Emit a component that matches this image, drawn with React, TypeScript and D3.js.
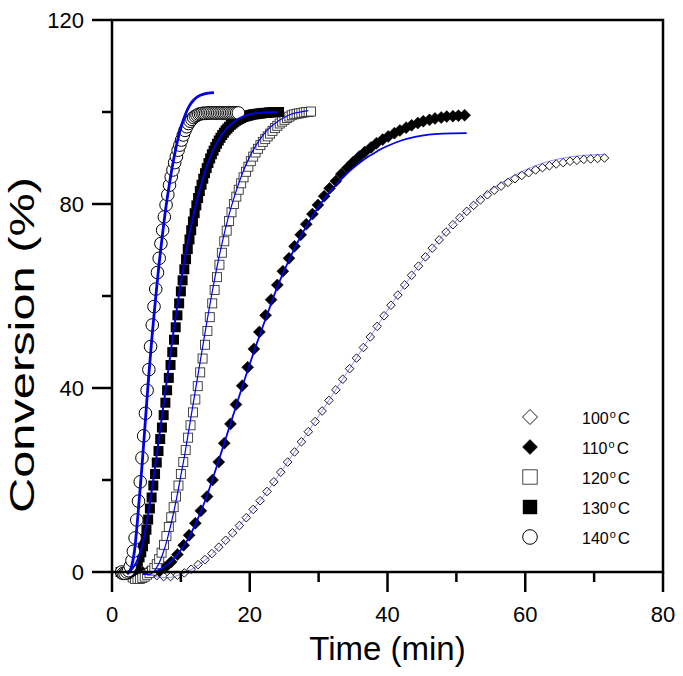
import React from 'react';
import * as d3 from 'd3';

const W = 683;
const H = 676;

const xMajorTicks = [0, 20, 40, 60, 80];
const xMinorTicks = [10, 30, 50, 70];
const yMajorTicks = [0, 40, 80, 120];
const yMinorTicks = [20, 60, 100];

const legendTemps = ['100', '110', '120', '130', '140'];

type P = [number, number];

// 100 oC observed (open diamonds)
const obs100: P[] = [
  [6.5,-0.8],[7.5,-1.0],[8.5,-1.0],[9.5,-0.7],[10.5,-0.2],[11.5,0.6],[12.5,1.6],[13.5,2.7],[14.5,4.0],[15.5,5.4],
  [16.5,6.9],[17.5,8.5],[18.5,10.1],[19.5,11.8],[20.5,13.6],[21.5,15.5],[22.5,17.5],[23.5,19.6],[24.5,21.7],[25.5,23.9],
  [26.5,26.1],[27.5,28.3],[28.5,30.5],[29.5,32.7],[30.5,35.0],[31.5,37.3],[32.5,39.6],[33.5,41.9],[34.5,44.2],[35.5,46.5],
  [36.5,48.8],[37.5,51.1],[38.5,53.4],[39.5,55.7],[40.5,58.0],[41.5,60.2],[42.5,62.4],[43.5,64.5],[44.5,66.5],[45.5,68.5],
  [46.5,70.4],[47.5,72.2],[48.5,73.9],[49.5,75.5],[50.5,77.0],[51.5,78.4],[52.5,79.7],[53.5,80.9],[54.5,82.0],[55.5,83.0],
  [56.5,83.9],[57.5,84.7],[58.5,85.5],[59.5,86.2],[60.5,86.8],[61.5,87.4],[62.5,87.9],[63.5,88.3],[64.5,88.7],[65.5,89.0],
  [66.5,89.3],[67.5,89.5],[68.5,89.7],[69.5,89.8],[70.5,89.9],[71.5,90.0]
];

// 110 oC observed (filled diamonds)
const obs110: P[] = [
  [3.5,0],[4.4,0],[5.2,0],[6.0,0],[6.9,0.2],[7.7,1.0],[8.6,2.2],[9.5,3.8],[10.4,5.8],[11.2,8.0],
  [12.1,10.6],[12.9,13.3],[13.8,16.4],[14.6,20.0],[15.5,23.9],[16.3,28.0],[17.2,32.2],[18.0,36.4],[18.9,40.5],[19.7,44.5],
  [20.6,48.5],[21.4,52.2],[22.3,55.8],[23.1,59.2],[24.0,62.4],[24.8,65.4],[25.7,68.2],[26.5,70.8],[27.4,73.3],[28.2,75.6],
  [29.1,77.8],[29.9,79.8],[30.8,81.7],[31.6,83.4],[32.5,85.0],[33.3,86.5],[34.2,87.9],[35.0,89.1],[35.9,90.3],[36.7,91.3],
  [37.6,92.3],[38.4,93.2],[39.3,94.0],[40.1,94.7],[41.0,95.4],[41.8,96.0],[42.7,96.6],[43.5,97.1],[44.4,97.6],[45.2,98.0],
  [46.1,98.3],[46.9,98.6],[47.8,98.8],[48.6,99.0],[49.5,99.1],[50.3,99.2],[51.2,99.3]
];

// 120 oC observed (open squares)
const obs120: P[] = [
  [3.0,-1.2],[3.35,-1.5],[3.7,-1.5],[4.05,-1.5],[4.4,-1.3],[4.75,-1.0],[5.1,-0.6],[5.45,-0.2],[5.8,0.3],[6.15,0.9],
  [6.5,1.7],[6.85,2.8],[7.2,4.2],[7.55,5.9],[7.9,7.8],[8.25,9.8],[8.6,11.9],[8.95,14.1],[9.3,16.4],[9.65,18.8],
  [10.0,21.3],[10.35,23.9],[10.7,26.5],[11.05,29.2],[11.4,31.9],[11.75,34.7],[12.1,37.5],[12.45,40.4],[12.8,43.4],[13.15,46.4],
  [13.5,49.4],[13.85,52.4],[14.2,55.4],[14.55,58.4],[14.9,61.3],[15.25,64.1],[15.6,66.8],[15.95,69.4],[16.3,71.9],[16.65,74.2],
  [17.0,76.3],[17.35,78.2],[17.7,80.0],[18.05,81.6],[18.4,83.1],[18.75,84.5],[19.1,85.8],[19.45,87.0],[19.8,88.1],[20.15,89.3],
  [20.5,90.3],[20.85,91.2],[21.2,92.0],[21.55,92.8],[21.9,93.5],[22.25,94.1],[22.6,94.7],[22.95,95.3],[23.3,95.9],[23.65,96.5],
  [24.0,97.0],[24.35,97.5],[24.7,97.9],[25.05,98.3],[25.4,98.7],[25.75,99.0],[26.1,99.3],[26.45,99.5],[26.8,99.6],[27.15,99.7],
  [27.5,99.8],[27.85,99.9],[28.2,100],[28.55,100],[28.9,100.1]
];

// 130 oC observed (filled squares)
const obs130: P[] = [
  [1.25,0],[1.5,-0.3],[1.75,-0.5],[2.0,-0.5],[2.25,-0.3],[2.5,0],[2.75,0.2],[3.0,0.5],[3.25,0.9],[3.5,1.5],
  [3.75,2.3],[4.0,3.2],[4.25,4.3],[4.5,5.6],[4.75,7.2],[5.0,9.2],[5.25,11.4],[5.5,13.8],[5.75,16.2],[6.0,18.8],
  [6.25,21.3],[6.5,23.8],[6.75,26.3],[7.0,28.9],[7.25,31.4],[7.5,34.1],[7.75,36.8],[8.0,39.5],[8.25,42.2],[8.5,45.0],
  [8.75,47.8],[9.0,50.5],[9.25,53.2],[9.5,55.8],[9.75,58.4],[10.0,61.0],[10.25,63.4],[10.5,65.8],[10.75,68.0],[11.0,70.2],
  [11.25,72.3],[11.5,74.3],[11.75,76.2],[12.0,78.0],[12.25,79.7],[12.5,81.3],[12.75,82.8],[13.0,84.2],[13.25,85.5],[13.5,86.7],
  [13.75,87.8],[14.0,88.9],[14.25,89.9],[14.5,90.8],[14.75,91.6],[15.0,92.4],[15.25,93.1],[15.5,93.8],[15.75,94.4],[16.0,95.0],
  [16.25,95.5],[16.5,96.0],[16.75,96.4],[17.0,96.8],[17.25,97.2],[17.5,97.5],[17.75,97.8],[18.0,98.1],[18.25,98.3],[18.5,98.5],
  [18.75,98.7],[19.0,98.9],[19.25,99.0],[19.5,99.1],[19.75,99.2],[20.0,99.3],[20.25,99.4],[20.5,99.5],[20.75,99.5],[21.0,99.6],
  [21.25,99.6],[21.5,99.7],[21.75,99.7],[22.0,99.8],[22.25,99.8],[22.5,99.8],[22.75,99.9],[23.0,99.9],[23.25,99.9],[23.5,100],
  [23.75,100],[24.0,100],[24.25,100]
];

// 140 oC observed (open circles)
const obs140: P[] = [
  [1.4,0],[1.65,-0.3],[1.9,-0.3],[2.15,0],[2.4,0.3],[2.65,1.2],[2.9,2.5],[3.1,4.5],[3.35,7.4],[3.6,11.3],
  [3.85,15.4],[4.1,19.6],[4.35,24.8],[4.6,29.6],[4.85,34.5],[5.1,39.5],[5.35,44.0],[5.6,49.0],[5.85,53.7],[6.1,57.7],
  [6.35,61.5],[6.6,65.1],[6.85,68.2],[7.1,71.4],[7.35,74.3],[7.6,77.2],[7.85,79.8],[8.1,82.0],[8.35,84.1],[8.6,85.9],
  [8.85,87.4],[9.1,89.0],[9.35,90.3],[9.6,91.7],[9.85,92.8],[10.1,93.9],[10.35,95.0],[10.6,96.0],[10.85,96.8],[11.1,97.5],
  [11.35,98.0],[11.6,98.4],[11.85,98.8],[12.1,99.1],[12.35,99.3],[12.6,99.5],[12.85,99.6],[13.1,99.7],[13.35,99.7],[13.6,99.7],
  [13.85,99.8],[14.1,99.8],[14.35,99.8],[14.6,99.8],[14.85,99.8],[15.1,99.8],[15.35,99.8],[15.6,99.8],[15.85,99.8],[16.1,99.8],
  [16.35,99.8],[16.6,99.8],[16.85,99.8],[17.1,99.8],[17.35,99.8],[17.6,99.8],[17.85,99.8],[18.1,99.8],[18.35,99.8]
];

// model fits (blue lines)
const fit100: P[] = [
  [6,-1],[8,-1.2],[10,-0.5],[12,1],[14,3.2],[16,6.1],[18,9.3],[20,12.7],[22,16.5],[24,20.6],[26,25],[28,29.4],
  [30,33.9],[32,38.5],[34,43.1],[36,47.7],[38,52.3],[40,56.9],[42,61.3],[44,65.5],[46,69.5],[48,73.1],[50,76.4],
  [52,79.3],[54,81.9],[56,84.1],[58,85.9],[60,87.4],[62,88.6],[64,89.5],[66,90.1],[68,90.5],[70,90.7],[71.5,90.8]
];
const fit110: P[] = [
  [4.5,-0.3],[6,0],[7,0.6],[8,1.6],[9,3],[10,4.8],[11,7.1],[12,10],[13,13.5],[14,17.5],[15,22],[16,26.6],[17,31.3],
  [18,36],[19,40.7],[20,45.2],[21,49.6],[22,53.8],[23,57.9],[24,62],[25,65.5],[26,68.8],[27,71.8],[28,74.6],[29,77.1],
  [30,79.4],[31,81.5],[32,83.3],[33,85],[34,86.5],[35,87.8],[36,89],[37,90.1],[38,91],[39,91.9],[40,92.6],[42,93.8],
  [44,94.6],[46,95.1],[48,95.3],[51.5,95.4]
];
const fit120: P[] = [
  [4.5,-0.5],[5.5,-0.5],[6,0],[6.5,1],[7,2.5],[7.5,4.5],[8,7],[8.5,10],[9,13.3],[9.5,17],[10,21],[10.5,25],[11,29.5],
  [11.5,34],[12,38.5],[12.5,43],[13,47.5],[13.5,52],[14,56.3],[14.5,60.5],[15,64.5],[15.5,68.2],[16,71.6],[16.5,74.8],
  [17,77.7],[17.5,80.3],[18,82.7],[18.5,84.9],[19,86.9],[20,90.3],[21,93],[22,95.1],[23,96.7],[24,97.9],[25,98.8],
  [26,99.5],[27,99.9],[28.5,100.3]
];
const fit130: P[] = [
  [2.2,0],[3,0.8],[3.5,2],[4,3.8],[4.5,6.5],[5,10.5],[5.5,15],[6,20],[6.5,25.5],[7,31],[7.5,36.5],[8,42],[8.5,47.5],
  [9,53],[9.5,58],[10,63],[10.5,67.5],[11,71.5],[11.5,75.3],[12,78.7],[12.5,81.8],[13,84.5],[13.5,87],[14,89.2],
  [15,92.7],[16,95.2],[17,97],[18,98.2],[19,99],[20,99.5],[22,99.9],[24,100]
];
const fit140: P[] = [
  [2.2,-0.5],[2.8,1],[3.3,5],[3.8,13],[4.3,22],[4.8,32],[5.3,42],[5.8,51],[6.3,59],[6.8,66.5],[7.3,73],[7.8,79],
  [8.3,84],[8.8,88.5],[9.3,92.3],[9.8,95.5],[10.3,98],[10.8,100],[11.3,101.5],[11.8,102.5],[12.5,103.4],[13.3,103.9],
  [14.0,104.1],[14.8,104.2]
];

const FONT = "'Liberation Sans', Arial, Helvetica, sans-serif";

type Kind = 'diamondOpen' | 'diamondFilled' | 'squareOpen' | 'squareFilled' | 'circleOpen';

function Marker({ kind, cx, cy, s }: { kind: Kind; cx: number; cy: number; s: number }) {
  if (kind === 'diamondOpen' || kind === 'diamondFilled') {
    const d = `M${cx},${cy - s}L${cx + s},${cy}L${cx},${cy + s}L${cx - s},${cy}Z`;
    return kind === 'diamondOpen'
      ? <path d={d} fill="#fff" stroke="#000" strokeWidth={0.9} />
      : <path d={d} fill="#000" stroke="#000" strokeWidth={0.5} />;
  }
  if (kind === 'squareOpen' || kind === 'squareFilled') {
    return kind === 'squareOpen'
      ? <rect x={cx - s} y={cy - s} width={2 * s} height={2 * s} fill="#fff" stroke="#333" strokeWidth={0.9} />
      : <rect x={cx - s} y={cy - s} width={2 * s} height={2 * s} fill="#000" />;
  }
  return <circle cx={cx} cy={cy} r={s} fill="#fff" stroke="#000" strokeWidth={1} />;
}

export default function App() {
  const x = d3.scaleLinear().domain([0, 80]).range([112, 663]);
  const y = d3.scaleLinear().domain([0, 120]).range([572, 20]);
  const line = d3.line<P>().x(d => x(d[0])).y(d => y(d[1])).curve(d3.curveMonotoneX);

  const series: { data: P[]; kind: Kind; s: number }[] = [
    { data: obs100, kind: 'diamondOpen', s: 4.3 },
    { data: obs110, kind: 'diamondFilled', s: 6 },
    { data: obs120, kind: 'squareOpen', s: 4.5 },
    { data: obs130, kind: 'squareFilled', s: 5 },
    { data: obs140, kind: 'circleOpen', s: 6.3 },
  ];
  const fits: { data: P[]; w: number; c: string; o: number }[] = [
    { data: fit100, w: 0.8, c: '#3333ff', o: 0.7 },
    { data: fit110, w: 1.8, c: '#0000ee', o: 1 },
    { data: fit120, w: 1.2, c: '#0000ee', o: 1 },
    { data: fit130, w: 2, c: '#0000dd', o: 1 },
    { data: fit140, w: 2.8, c: '#0000dd', o: 1 },
  ];
  const legendKinds: Kind[] = ['diamondOpen', 'diamondFilled', 'squareOpen', 'squareFilled', 'circleOpen'];
  const legendSizes = [7.5, 7.5, 7.2, 7.2, 7.3];

  const [x0, x1] = x.range();
  const [y0, y1] = y.range();

  return (
    <svg width={W} height={H} style={{ position: 'absolute', left: 0, top: 0, background: '#fff' }} fontFamily={FONT}>
      <rect x={0} y={0} width={W} height={H} fill="#fff" />
      {series.map((s, i) => (
        <g key={i}>
          {s.data.map((d, j) => (
            <Marker key={j} kind={s.kind} cx={x(d[0])} cy={y(d[1])} s={s.s} />
          ))}
        </g>
      ))}
      {fits.map((f, i) => (
        <path key={i} d={line(f.data) || ''} fill="none" stroke={f.c} strokeWidth={f.w} strokeOpacity={f.o} />
      ))}
      <rect x={x0} y={y1} width={x1 - x0} height={y0 - y1} fill="none" stroke="#000" strokeWidth={2.5} />
      {xMajorTicks.map(t => (
        <g key={'xm' + t}>
          <line x1={x(t)} x2={x(t)} y1={y0} y2={y0 + 20} stroke="#000" strokeWidth={2.5} />
          <text x={x(t)} y={y0 + 50} fontSize={22} textAnchor="middle" fill="#000">{t}</text>
        </g>
      ))}
      {xMinorTicks.map(t => (
        <line key={'xn' + t} x1={x(t)} x2={x(t)} y1={y0} y2={y0 + 10} stroke="#000" strokeWidth={2.5} />
      ))}
      {yMajorTicks.map(t => (
        <g key={'ym' + t}>
          <line x1={x0} x2={x0 - 20} y1={y(t)} y2={y(t)} stroke="#000" strokeWidth={2.5} />
          <text x={84} y={y(t) + 8} fontSize={22} textAnchor="end" fill="#000">{t}</text>
        </g>
      ))}
      {yMinorTicks.map(t => (
        <line key={'yn' + t} x1={x0} x2={x0 - 10} y1={y(t)} y2={y(t)} stroke="#000" strokeWidth={2.5} />
      ))}
      <text x={(x0 + x1) / 2} y={660} fontSize={33} textAnchor="middle" fill="#000">Time (min)</text>
      <text transform={`translate(34,345) rotate(-90)`} fontSize={35} textAnchor="middle"
        textLength={336} lengthAdjust="spacingAndGlyphs" fill="#000">Conversion (%)</text>
      {legendTemps.map((t, i) => {
        const ly = 417 + i * 30;
        return (
          <g key={'lg' + t}>
            <Marker kind={legendKinds[i]} cx={530} cy={ly} s={legendSizes[i]} />
            <text x={582} y={ly + 7} fontSize={16} fill="#000">
              {t}
              <tspan fontSize={11} dy={-6} dx={1}>o</tspan>
              <tspan fontSize={17} dy={6} dx={2}>C</tspan>
            </text>
          </g>
        );
      })}
    </svg>
  );
}
